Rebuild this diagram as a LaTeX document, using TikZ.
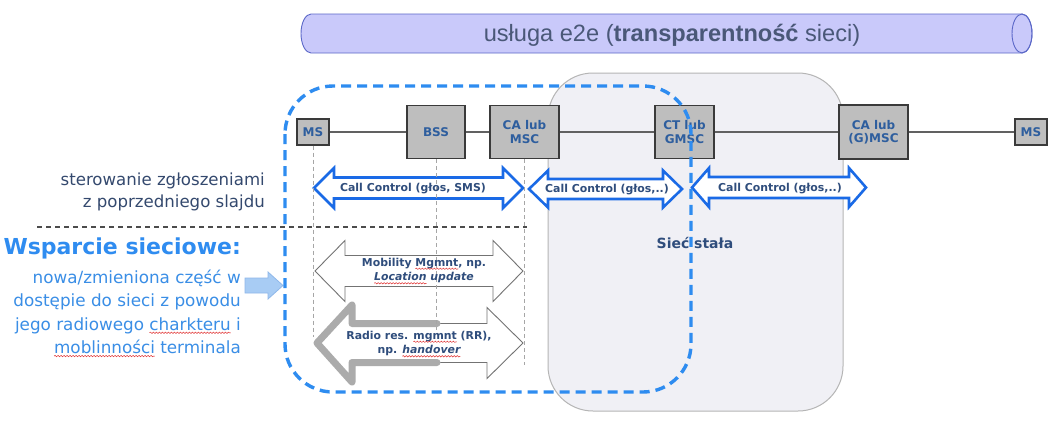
\documentclass[tikz,border=0pt]{standalone}
\usepackage{fontspec}
\usetikzlibrary{decorations.pathmorphing}
\setmainfont{DejaVu Sans}
\newfontfamily\cylfont{Liberation Sans}
\definecolor{sqred}{HTML}{E03030}
\definecolor{cylfill}{HTML}{C9C9FA}
\definecolor{cylline}{HTML}{5B68C8}
\definecolor{cyltext}{HTML}{4A5878}
\definecolor{fixfill}{HTML}{F0F0F5}
\definecolor{fixline}{HTML}{B5B5B5}
\definecolor{dashblue}{HTML}{2E8CF0}
\definecolor{boxfill}{HTML}{BEBEBE}
\definecolor{boxline}{HTML}{3A3A3A}
\definecolor{boxtext}{HTML}{2E5E9E}
\definecolor{ccblue}{HTML}{1A6AE6}
\definecolor{lbltext}{HTML}{2F4D7C}
\definecolor{lefttext}{HTML}{34496E}
\definecolor{wsp}{HTML}{2F8CF0}
\definecolor{wspbody}{HTML}{3A8EE6}
\definecolor{larrfill}{HTML}{A8CCF4}
\definecolor{larrline}{HTML}{8FB8EA}
\newcommand\redsq[1]{\tikz[baseline=(t.base)]{\node[inner sep=0pt,outer sep=0pt](t){#1};\draw[overlay,draw=sqred,line width=0.5pt,decorate,decoration={snake,segment length=3pt,amplitude=0.7pt}] ([yshift=-2.5pt]t.base west) -- ([yshift=-2.5pt]t.base east);}}
\newcommand\dblarr[7]{%
  \draw[#1] (#2,#4) -- (#2+#5,#4-#6) -- (#2+#5,#4-#7) -- (#3-#5,#4-#7) -- (#3-#5,#4-#6) -- (#3,#4) -- (#3-#5,#4+#6) -- (#3-#5,#4+#7) -- (#2+#5,#4+#7) -- (#2+#5,#4+#6) -- cycle;}
\tikzset{
  netbox/.style={draw=boxline, fill=boxfill, line width=1.2pt, font=\bfseries\fontsize{12}{13.5}\selectfont, text=boxtext, align=center, inner sep=0pt},
  link/.style={draw=black!62, line width=1.5pt},
  ccarrow/.style={draw=ccblue, fill=white, line width=2.6pt, line join=miter},
  grayarrow/.style={draw=black!55, fill=white, line width=0.9pt},
  lbl/.style={font=\bfseries\fontsize{10.9}{14.5}\selectfont, text=lbltext, align=center, inner sep=0pt},
  vguide/.style={draw=black!35, line width=0.8pt, dash pattern=on 4pt off 3pt},
}
\begin{document}
\begin{tikzpicture}[x=1pt,y=-1pt]
\useasboundingbox[fill=white] (0,0) rectangle (1059,421);
% e2e cylinder
\draw[fill=cylfill, draw=cylline, line width=0.9pt] (311,14) -- (1022,14) arc[start angle=-90,end angle=90,x radius=10,y radius=19.5] -- (311,53) arc[start angle=90,end angle=270,x radius=10,y radius=19.5] -- cycle;
\draw[draw=cylline, line width=0.9pt] (1022,33.5) ellipse[x radius=10,y radius=19.5];
\node[font=\cylfont\fontsize{23.6}{26}\selectfont, text=cyltext, inner sep=0pt] (e2e) at (672,35) {usługa e2e (\textbf{transparentność} sieci)};
% fixed network area
\draw[fill=fixfill, draw=fixline, line width=1pt, rounded corners=45pt] (548,73) rectangle (843,411);
\node[font=\bfseries\fontsize{14}{16}\selectfont, text=lbltext, inner sep=0pt] (fixed) at (695,243) {Sieć stała};
% network elements
\node[netbox, minimum width=32pt, minimum height=26pt] (ms1) at (313,132) {MS};
\node[netbox, minimum width=58pt, minimum height=53pt] (bss) at (436,132) {BSS};
\node[netbox, minimum width=69pt, minimum height=53pt] (camsc) at (524.5,132) {CA lub\\MSC};
\node[netbox, minimum width=59pt, minimum height=53pt] (ctg) at (684.5,132) {CT lub\\GMSC};
\node[netbox, minimum width=69pt, minimum height=54pt] (cag) at (873.5,132) {CA lub\\(G)MSC};
\node[netbox, minimum width=32pt, minimum height=26pt] (ms2) at (1031,132) {MS};
\draw[link] (ms1) -- (bss);
\draw[link] (bss) -- (camsc);
\draw[link] (camsc) -- (ctg);
\draw[link] (ctg) -- (cag);
\draw[link] (cag) -- (ms2);
% guides
\coordinate (g1) at (313,337);
\coordinate (g2) at (436,330);
\coordinate (g3) at (524.5,365);
% call control arrows
\dblarr{ccarrow}{314}{523}{188}{20}{20}{10.5}
\dblarr{ccarrow}{529}{682}{189}{19}{18.5}{10}
\dblarr{ccarrow}{692}{866}{187.5}{17}{19.5}{10.5}
% mobility arrow
\dblarr{grayarrow}{315}{523}{271}{30}{30.5}{15.5}
% radio arrow
\draw[grayarrow] (317,343) -- (352,304.5) -- (352,323.5) -- (487,323.5) -- (487,307.5) -- (523,343) -- (487,378.5) -- (487,362.5) -- (352,362.5) -- (352,382) -- cycle;
\draw[draw=black!33, line width=7pt, line cap=round, line join=round] (437,323.5) -- (352,323.5) -- (352,305) -- (317,343) -- (352,382) -- (352,362.5) -- (437,362.5);
% vertical guides
\draw[vguide] (ms1.south) -- (g1);
\draw[vguide] (bss.south) -- (g2);
\draw[vguide] (camsc.south) -- (g3);
% labels
\node[lbl] (cc1) at (413,188.5) {Call Control (głos, SMS)};
\node[lbl] (cc2) at (607,190) {Call Control (głos,..)};
\node[lbl] (cc3) at (780,189) {Call Control (głos,..)};
\node[lbl] (mm) at (424,270.5) {Mobility \redsq{Mgmnt}, np.\\\textit{\redsq{Location} update}};
\node[lbl] (rr) at (419,343.5) {Radio res. \redsq{mgmnt} (RR),\\np. \textit{\redsq{handover}}};
% separator
\coordinate (sepL) at (37,227);
\coordinate (sepR) at (527,227);
\draw[draw=black!70, line width=1.2pt, dash pattern=on 5pt off 4pt] (sepL) -- (sepR);
% left texts
\node[anchor=east, align=right, inner sep=0pt, font=\fontsize{16.6}{22}\selectfont, text=lefttext] (ster) at (265,192) {sterowanie zgłoszeniami\\z poprzedniego slajdu};
\node[anchor=east, inner sep=0pt, font=\bfseries\fontsize{22}{24}\selectfont, text=wsp] (wsp) at (241,248) {Wsparcie sieciowe:};
\node[anchor=east, align=right, inner sep=0pt, font=\fontsize{16.8}{23.3}\selectfont, text=wspbody] (wspb) at (241,312) {nowa/zmieniona część w\\dostępie do sieci z powodu\\jego radiowego \redsq{charkteru} i\\\redsq{moblinności} terminala};
\draw[fill=larrfill, draw=larrline, line width=0.8pt] (245,278) -- (268,278) -- (268,272) -- (283,285.5) -- (268,299) -- (268,293) -- (245,293) -- cycle;
% access network boundary
\draw[draw=dashblue, line width=3.4pt, dash pattern=on 10pt off 6pt, rounded corners=48pt] (285,86) rectangle (691,392);
\end{tikzpicture}
\end{document}
